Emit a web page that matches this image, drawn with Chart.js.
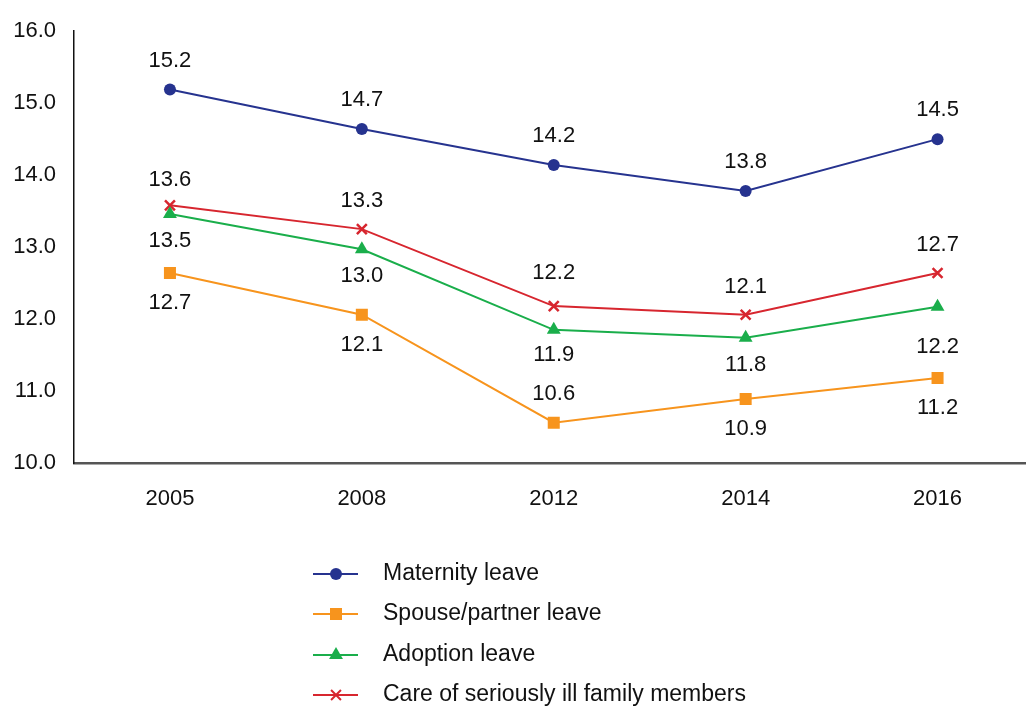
<!DOCTYPE html>
<html>
<head>
<meta charset="utf-8">
<script src="https://cdn.jsdelivr.net/npm/chart.js@4.4.0/dist/chart.umd.min.js"></script>
<style>
  html, body { margin: 0; padding: 0; overflow: hidden; background: #fff; }
  canvas { display: block; }
</style>
</head>
<body>
<canvas id="chart" width="1043" height="708"></canvas>
<script>
const years = ['2005', '2008', '2012', '2014', '2016'];

const maternity = [15.19, 14.64, 14.14, 13.78, 14.50];
const spouse    = [12.64, 12.06, 10.56, 10.89, 11.18];
const adoption  = [13.46, 12.97, 11.85, 11.74, 12.17];
const care      = [13.58, 13.25, 12.18, 12.06, 12.64];

// the printed value labels
const maternityLabels = ['15.2', '14.7', '14.2', '13.8', '14.5'];
const spouseLabels    = ['12.7', '12.1', '10.6', '10.9', '11.2'];
const adoptionLabels  = ['13.5', '13.0', '11.9', '11.8', '12.2'];
const careLabels      = ['13.6', '13.3', '12.2', '12.1', '12.7'];

const FONT = '"Liberation Sans", Arial, sans-serif';

function series(label, data, labels, color, style, radius, labelOffsets) {
    return {
        label: label,
        data: data,
        valueLabels: labels,
        labelOffsets: labelOffsets,
        borderColor: color,
        backgroundColor: color,
        borderWidth: 2,
        pointStyle: style,
        pointRadius: radius,
        pointHoverRadius: radius,
        pointBorderWidth: style === 'crossRot' ? 2.5 : 0,
        pointBorderColor: color,
        pointBackgroundColor: color,
        tension: 0
    };
}

// value labels drawn next to each point
const valueLabelPlugin = {
    id: 'valueLabels',
    afterDatasetsDraw(chart) {
        const ctx = chart.ctx;
        ctx.save();
        ctx.font = '22px ' + FONT;
        ctx.fillStyle = '#111';
        ctx.textAlign = 'center';
        ctx.textBaseline = 'middle';
        chart.data.datasets.forEach((ds, i) => {
            const meta = chart.getDatasetMeta(i);
            meta.data.forEach((pt, j) => {
                ctx.fillText(ds.valueLabels[j], pt.x, pt.y + ds.labelOffsets[j]);
            });
        });
        ctx.restore();
    }
};

// vertical legend under the chart
const listLegendPlugin = {
    id: 'listLegend',
    afterDraw(chart) {
        const ctx = chart.ctx;
        const rowY = [574, 614, 655, 695];
        ctx.save();
        chart.data.datasets.forEach((ds, i) => {
            const y = rowY[i];
            ctx.strokeStyle = ds.borderColor;
            ctx.lineWidth = 2;
            ctx.beginPath();
            ctx.moveTo(313, y);
            ctx.lineTo(358, y);
            ctx.stroke();
            ctx.fillStyle = ds.backgroundColor;
            Chart.helpers.drawPoint(ctx, {
                pointStyle: ds.pointStyle,
                radius: ds.pointRadius,
                borderWidth: ds.pointBorderWidth
            }, 336, y);
            ctx.font = '23px ' + FONT;
            ctx.fillStyle = '#111';
            ctx.textAlign = 'left';
            ctx.textBaseline = 'middle';
            ctx.fillText(ds.label, 383, y);
        });
        ctx.restore();
    }
};

new Chart(document.getElementById('chart'), {
    type: 'line',
    data: {
        labels: years,
        datasets: [
            series('Maternity leave', maternity, maternityLabels, '#26338f', 'circle', 6,
                [-29, -29, -29, -29, -29]),
            series('Spouse/partner leave', spouse, spouseLabels, '#f7941d', 'rect', 8.5,
                [30, 30, -29, 30, 30]),
            series('Adoption leave', adoption, adoptionLabels, '#1aae4b', 'triangle', 8,
                [27, 27, 25, 27, 40]),
            series('Care of seriously ill family members', care, careLabels, '#d7262f', 'crossRot', 7,
                [-25, -28, -33, -28, -28])
        ]
    },
    options: {
        responsive: false,
        animation: false,
        layout: { padding: { top: 31, left: 0, right: 0, bottom: 0 } },
        plugins: {
            legend: { display: false },
            tooltip: { enabled: false }
        },
        scales: {
            x: {
                offset: true,
                grid: { display: false, drawTicks: false },
                border: { display: true, color: '#555', width: 2.5 },
                ticks: { color: '#111', font: { family: FONT, size: 22 }, padding: 23 },
                afterFit(scale) { scale.height = 245; }
            },
            y: {
                min: 10,
                max: 16,
                grid: { display: false, drawTicks: false },
                border: { display: true, color: '#111', width: 1.5 },
                ticks: {
                    stepSize: 1,
                    color: '#111',
                    font: { family: FONT, size: 22 },
                    padding: 18,
                    callback: v => v.toFixed(1)
                },
                afterFit(scale) { scale.width = 74; }
            }
        }
    },
    plugins: [valueLabelPlugin, listLegendPlugin]
});
</script>
</body>
</html>
